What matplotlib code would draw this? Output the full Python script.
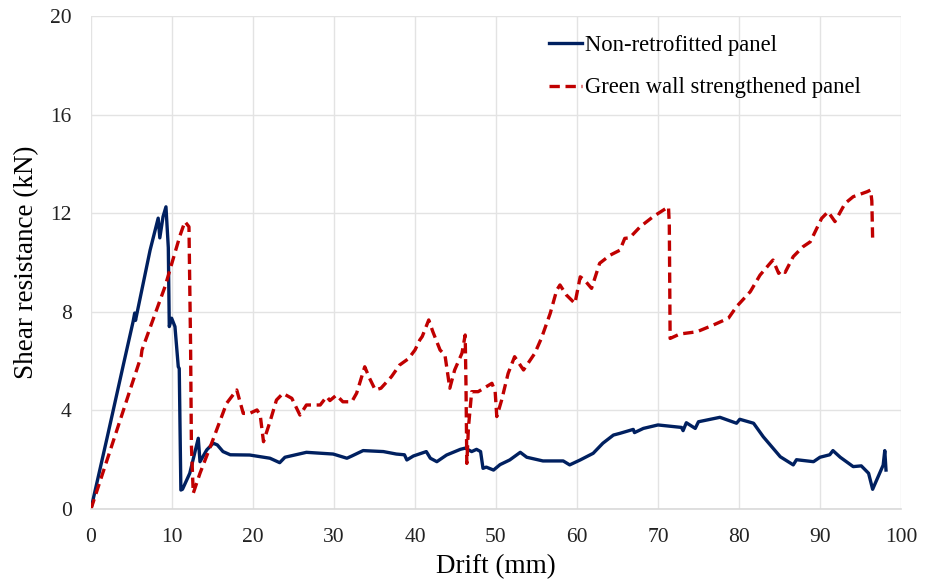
import matplotlib.pyplot as plt

# Non-retrofitted panel (drift mm, shear kN)
drift_nr = [0, 2.0, 4.0, 5.2, 5.4, 5.5, 7.3, 8.3, 8.5, 8.9, 9.26, 9.55, 9.67,
            9.96, 10.37, 10.78, 10.9, 11.1, 11.3, 12.2, 13.25, 13.46, 14.3, 15.1,
            15.6, 16.3, 17.2, 19.6, 22.1, 23.3, 23.95, 26.6, 29.9, 31.6, 32.2,
            33.6, 36.1, 37.7, 38.7, 39.0, 39.8, 41.4, 41.9, 42.7, 43.9, 45.6,
            46.2, 47.0, 47.6, 48.1, 48.4, 48.8, 49.7, 50.5, 51.7, 53.0, 53.8,
            55.8, 58.3, 59.1, 60.4, 62.0, 63.2, 64.5, 65.3, 66.95, 67.1, 68.2,
            70.0, 72.9, 73.1, 73.5, 74.6, 75.0, 77.65, 79.7, 80.1, 81.8, 83.0,
            85.1, 86.7, 87.1, 89.2, 90.0, 91.2, 91.6, 92.5, 94.1, 95.1, 96.0,
            96.5, 97.8, 98.0, 98.15]
shear_nr = [0, 2.9, 5.85, 7.6, 7.95, 7.65, 10.5, 11.8, 11.0, 11.86, 12.26, 10.6,
            7.4, 7.74, 7.4, 5.77, 5.7, 0.77, 0.8, 1.45, 2.87, 1.92, 2.4, 2.67,
            2.6, 2.33, 2.2, 2.19, 2.06, 1.88, 2.1, 2.3, 2.23, 2.06, 2.15, 2.37,
            2.33, 2.23, 2.2, 1.99, 2.15, 2.33, 2.06, 1.92, 2.19, 2.42, 2.47,
            2.33, 2.42, 2.33, 1.65, 1.7, 1.58, 1.8, 1.99, 2.3, 2.1, 1.95, 1.95,
            1.79, 1.99, 2.26, 2.67, 3.0, 3.07, 3.23, 3.1, 3.27, 3.41, 3.31,
            3.18, 3.5, 3.27, 3.54, 3.72, 3.48, 3.64, 3.48, 2.93, 2.12, 1.79,
            2.0, 1.92, 2.1, 2.2, 2.37, 2.1, 1.72, 1.75, 1.45, 0.8, 1.78, 2.37,
            1.58]

# Green wall strengthened panel
drift_gw = [0, 3.0, 6.2, 6.3, 9.14, 11.0, 11.6, 12.1, 12.3, 12.4, 12.63, 13.46,
            14.9, 16.75, 18.0, 18.8, 19.6, 20.5, 20.9, 21.3, 22.1, 22.9, 23.7,
            24.8, 25.8, 26.6, 28.3, 29.1, 29.5, 30.3, 31.1, 32.2, 32.8, 33.8,
            34.4, 35.1, 35.8, 37.1, 38.1, 39.2, 40.0, 40.6, 40.9, 41.7, 42.2,
            43.1, 43.7, 44.3, 44.9, 45.8, 46.2, 46.3, 46.4, 46.6, 47.0, 47.8,
            49.5, 49.9, 50.1, 50.7, 51.5, 52.3, 53.4, 54.8, 55.6, 56.7, 57.5,
            57.9, 58.7, 59.75, 60.4, 60.9, 61.8, 62.8, 64.1, 65.3, 65.9, 66.5,
            67.8, 69.4, 71.3, 71.4, 71.5, 72.7, 74.8, 76.8, 78.7, 79.7, 81.4,
            82.6, 84.0, 84.2, 84.9, 85.3, 85.7, 86.7, 87.9, 88.8, 90.2, 91.0,
            91.85, 93.1, 94.1, 95.8, 96.25, 96.4, 96.5]
shear_gw = [0, 3.0, 6.2, 6.45, 9.02, 11.1, 11.66, 11.45, 6.6, 2.6, 0.64, 1.45,
            2.67, 4.29, 4.83, 3.88, 3.88, 4.02, 3.8, 2.73, 3.54, 4.42, 4.69,
            4.49, 3.81, 4.22, 4.22, 4.56, 4.4, 4.62, 4.35, 4.35, 4.7, 5.77,
            5.3, 4.83, 4.9, 5.37, 5.84, 6.1, 6.45, 6.86, 7.0, 7.67, 7.2, 6.45,
            6.25, 4.9, 5.64, 6.32, 7.06, 5.0, 1.85, 3.3, 4.76, 4.76, 5.1, 4.76,
            3.75, 4.42, 5.5, 6.18, 5.64, 6.32, 6.92, 7.94, 8.88, 9.09, 8.68,
            8.34, 9.42, 9.3, 8.95, 9.97, 10.3, 10.5, 10.98, 11.0, 11.45, 11.86,
            12.26, 11.5, 6.92, 7.1, 7.19, 7.46, 7.74, 8.21, 8.82, 9.49, 10.03,
            10.1, 9.56, 9.7, 9.6, 10.24, 10.64, 10.84, 11.79, 12.06, 11.66,
            12.4, 12.67, 12.87, 12.94, 12.5, 10.98]

plt.rcParams['font.family'] = ['Liberation Serif', 'DejaVu Serif']

fig = plt.figure(figsize=(9.3, 5.85), dpi=100)
ax = fig.add_axes([0.0978, 0.1299, 0.871, 0.8427])

ax.plot(drift_nr, shear_nr, color='#002060', lw=2.4, label='Non-retrofitted panel')
ax.plot(drift_gw, shear_gw, color='#C00000', lw=2.4, linestyle=(0, (3.1, 1.7)),
        label='Green wall strengthened panel')

ax.set_xlim(0, 100)
ax.set_ylim(0, 20)
ax.set_xticks(range(0, 101, 10))
ax.set_yticks(range(0, 21, 4))
ax.grid(True, color='#e3e3e3', lw=1)
ax.set_axisbelow(True)
for s in ['top', 'right', 'left']:
    ax.spines[s].set_visible(False)
ax.spines['bottom'].set_color('#d9d9d9')
ax.spines['bottom'].set_linewidth(1.2)
ax.tick_params(length=0, labelsize=15.5, colors='#222222', pad=14)
ax.tick_params(axis='y', pad=14)

ax.set_xlabel('Drift (mm)', fontsize=19.5, labelpad=5)
ax.set_ylabel('Shear resistance (kN)', fontsize=19.5, labelpad=8)

ax.legend(loc='center left', bbox_to_anchor=(0.590, 0.886),
          bbox_transform=fig.transFigure, frameon=False, fontsize=16.3,
          handlelength=1.45, handletextpad=0.15, labelspacing=0.95,
          borderpad=0, borderaxespad=0)

fig.savefig('out.png', dpi=100)
